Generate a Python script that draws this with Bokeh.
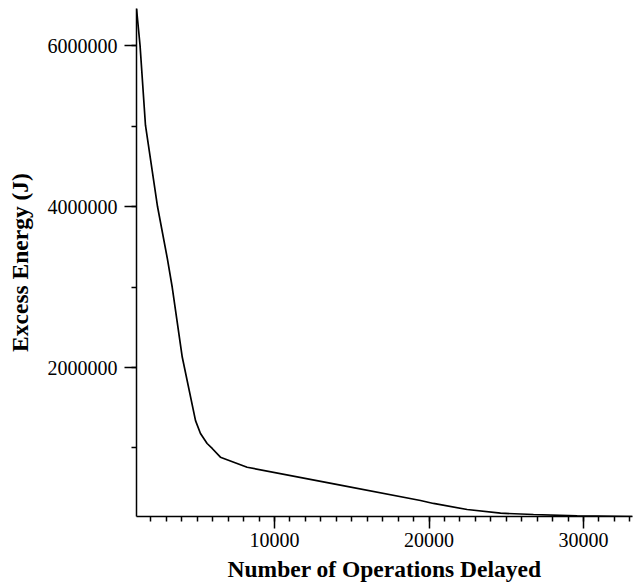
from bokeh.plotting import figure
from bokeh.models import Range1d, SingleIntervalTicker, BasicTickFormatter
from bokeh.embed import file_html
from bokeh.resources import INLINE

# Data
ops_delayed = [1070, 1300, 1650, 2430, 3070, 3380, 4030, 4890, 5210, 5640, 5970,
               6500, 8230, 13840, 19450, 20290, 22470, 24630, 26760, 29590, 33170]
excess_energy = [6460000, 6000000, 5010000, 4000000, 3350000, 3000000, 2130000,
                 1340000, 1180000, 1056000, 994000, 886000, 761000, 555000,
                 348000, 311000, 236000, 190000, 174000, 158000, 149000]

x_label = "Number of Operations Delayed"
y_label = "Excess Energy (J)"

FONT = "Liberation Serif"

p = figure(width=636, height=588, output_backend="svg", toolbar_location=None,
           x_range=Range1d(1070, 33170), y_range=Range1d(149000, 6460000),
           min_border_left=136, min_border_right=4, min_border_top=8,
           min_border_bottom=72)
p.outline_line_color = None
p.xgrid.visible = False
p.ygrid.visible = False

p.line(ops_delayed, excess_energy, line_color="black", line_width=1.7)

p.xaxis.ticker = SingleIntervalTicker(interval=10000, num_minor_ticks=10)
p.yaxis.ticker = SingleIntervalTicker(interval=2000000, num_minor_ticks=2)
for ax in (p.xaxis, p.yaxis):
    ax.formatter = BasicTickFormatter(use_scientific=False)
    ax.axis_line_width = 1.5
    ax.axis_line_color = "black"
    ax.major_tick_line_color = "black"
    ax.minor_tick_line_color = "black"
    ax.major_tick_line_width = 1.5
    ax.minor_tick_line_width = 1.5
    ax.major_tick_out = 12
    ax.major_tick_in = 0
    ax.minor_tick_out = 5
    ax.minor_tick_in = 0
    ax.major_label_text_font = FONT
    ax.major_label_text_font_size = "20px"
    ax.major_label_text_color = "black"
    ax.axis_label_text_font = FONT
    ax.axis_label_text_font_size = "23.5px"
    ax.axis_label_text_font_style = "bold"
    ax.axis_label_text_color = "black"

p.xaxis.major_label_standoff = 4
p.xaxis.axis_label_standoff = 6
p.yaxis.major_label_standoff = 7
p.yaxis.axis_label_standoff = 12

p.xaxis.axis_label = x_label
p.yaxis.axis_label = y_label

open("out.html", "w").write(file_html(p, INLINE))
